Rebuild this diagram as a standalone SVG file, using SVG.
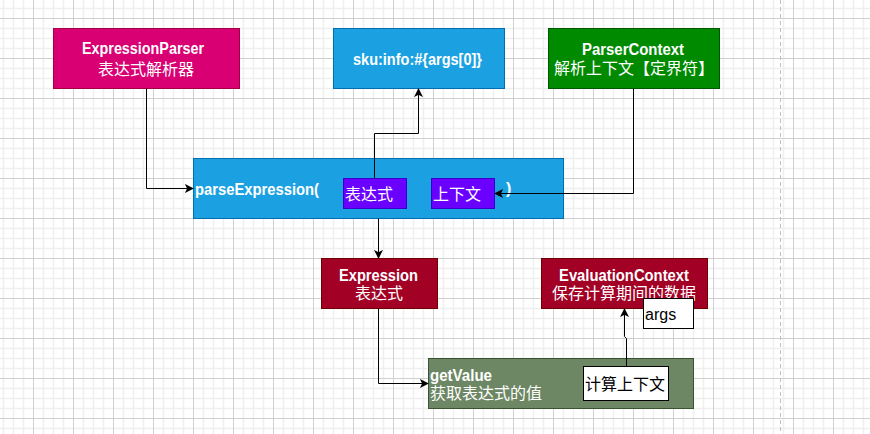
<svg xmlns="http://www.w3.org/2000/svg" width="870" height="434" viewBox="0 0 870 434">
<defs>
<pattern id="grid" x="33" y="18" width="40" height="40" patternUnits="userSpaceOnUse">
<path d="M10.5 0V40M20.5 0V40M30.5 0V40M0 10.5H40M0 20.5H40M0 30.5H40" stroke="#efefef" stroke-width="1.5" fill="none"/>
<path d="M0.5 0V40M0 0.5H40" stroke="#d0d0d0" stroke-width="1" fill="none"/>
</pattern>
<marker id="arr" viewBox="0 0 10 10" refX="9" refY="5" markerWidth="9" markerHeight="9" markerUnits="userSpaceOnUse" orient="auto">
<path d="M0 0L10 5L0 10L2.5 5Z" fill="#000"/>
</marker>
<style>
.t{font-family:"Liberation Sans","Noto Sans CJK SC",sans-serif;fill:#fff}
.b{font-weight:bold;font-size:16px}
.c{font-size:16px}
.k{fill:#000}
.e{stroke:#000;stroke-width:1;fill:none;marker-end:url(#arr)}
</style>
</defs>
<rect width="870" height="434" fill="#fff"/>
<rect width="870" height="434" fill="url(#grid)"/>
<line x1="780.5" y1="0" x2="780.5" y2="434" stroke="#c0c0c0" stroke-dasharray="4 3"/>

<g id="n-parser">
<rect x="53.5" y="28.5" width="186" height="60" fill="#d80073" stroke="#a50040"/>
<text class="t b" x="82" y="54" textLength="122" lengthAdjust="spacingAndGlyphs">ExpressionParser</text>
<text class="t c" x="146" y="75" text-anchor="middle">表达式解析器</text>
</g>
<g id="n-sku">
<rect x="333.5" y="28.5" width="171" height="60" fill="#1ba1e2" stroke="#006eaf"/>
<text class="t b" x="353" y="65" textLength="129" lengthAdjust="spacingAndGlyphs">sku:info:#{args[0]}</text>
</g>
<g id="n-pctx">
<rect x="548.5" y="28.5" width="171" height="60" fill="#008a00" stroke="#005700"/>
<text class="t b" x="582" y="55" textLength="102" lengthAdjust="spacingAndGlyphs">ParserContext</text>
<text class="t c" x="634" y="74" text-anchor="middle">解析上下文【定界符】</text>
</g>
<g id="n-parse">
<rect x="193.5" y="158.5" width="370" height="60" fill="#1ba1e2" stroke="#006eaf"/>
<text class="t b" x="195" y="195" textLength="124" lengthAdjust="spacingAndGlyphs">parseExpression(</text>
<text class="t b" x="506" y="194">)</text>
</g>
<g id="n-expr-arg">
<rect x="343.5" y="178.5" width="63" height="30" fill="#6a00ff" stroke="#3700cc"/>
<text class="t c" x="345" y="200">表达式</text>
</g>
<g id="n-ctx-arg">
<rect x="431.5" y="178.5" width="63" height="30" fill="#6a00ff" stroke="#3700cc"/>
<text class="t c" x="433" y="200">上下文</text>
</g>
<g id="n-expression">
<rect x="321.5" y="258.5" width="116" height="50" fill="#a20025" stroke="#6f0000"/>
<text class="t b" x="339" y="281" textLength="79" lengthAdjust="spacingAndGlyphs">Expression</text>
<text class="t c" x="379" y="299" text-anchor="middle">表达式</text>
</g>
<g id="n-evalctx">
<rect x="541.5" y="258.5" width="166" height="50" fill="#a20025" stroke="#6f0000"/>
<text class="t b" x="559" y="281" textLength="130" lengthAdjust="spacingAndGlyphs">EvaluationContext</text>
<text class="t c" x="624" y="299" text-anchor="middle">保存计算期间的数据</text>
</g>
<g id="n-args">
<rect x="643.5" y="298.5" width="50" height="30" fill="#fff" stroke="#000"/>
<text class="t c k" x="645" y="320">args</text>
</g>
<g id="n-getvalue">
<rect x="428.5" y="358.5" width="265" height="50" fill="#6d8764" stroke="#3a5431"/>
<text class="t b" x="430" y="381" textLength="62" lengthAdjust="spacingAndGlyphs">getValue</text>
<text class="t c" x="430" y="399">获取表达式的值</text>
</g>
<g id="n-calcctx">
<rect x="583.5" y="366.5" width="85" height="34" fill="#fff" stroke="#000"/>
<text class="t c k" x="585" y="390">计算上下文</text>
</g>

<g id="edges">
<path class="e" d="M146.5 88.5V188.5H193"/>
<path class="e" d="M374.5 178.5V133.5H418.5V89"/>
<path class="e" d="M633.5 88.5V193.5H495"/>
<path class="e" d="M378.5 218.5V258"/>
<path class="e" d="M378.5 308.5V383.5H428"/>
<path class="e" d="M626.5 366.5V338.5L624.5 336.5V309"/>
</g>
</svg>
